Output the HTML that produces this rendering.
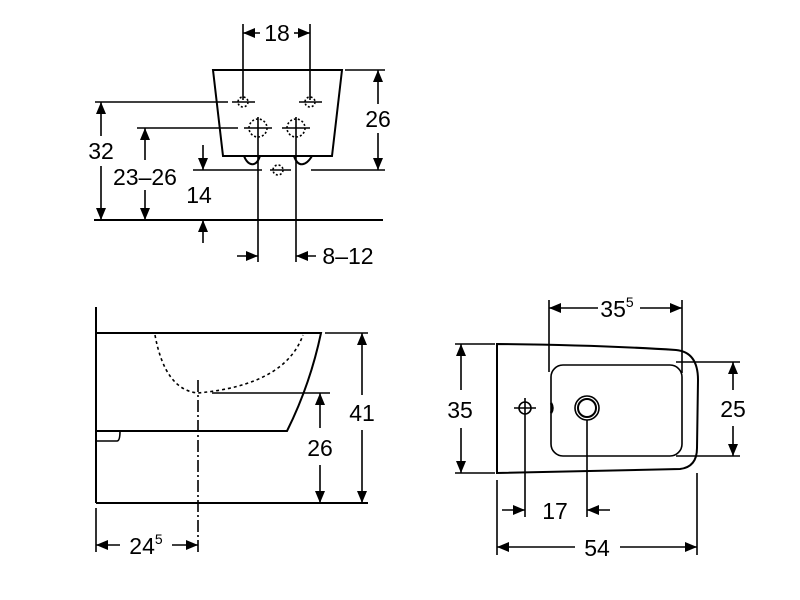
<!DOCTYPE html>
<html><head><meta charset="utf-8"><style>html,body{margin:0;padding:0;background:#fff}svg{display:block}text{font-family:"Liberation Sans",Arial,sans-serif;font-size:23px;fill:#000}</style></head><body>
<svg width="800" height="600" viewBox="0 0 800 600" xmlns="http://www.w3.org/2000/svg">
<defs>
<marker id="a" viewBox="0 0 12 10" refX="12" refY="5" markerWidth="12" markerHeight="10" markerUnits="userSpaceOnUse" orient="auto-start-reverse"><path d="M0,0L12,5L0,10Z" fill="#000"/></marker>
</defs>
<g stroke="#000" stroke-width="1.6" fill="none">
<!-- TOP VIEW -->
<path d="M213,70 L342,70 L332,156 L223,156 Z" stroke-width="2"/>
<path d="M244,156 C248,166 256,168 260,156 M294,156 C298,168 306,166 312,156" stroke-width="2"/>
<line x1="243" y1="24" x2="243" y2="100"/><line x1="310" y1="24" x2="310" y2="100"/>
<line x1="243" y1="33" x2="260" y2="33" marker-start="url(#a)"/><line x1="294" y1="33" x2="310" y2="33" marker-end="url(#a)"/>
<line x1="95" y1="102" x2="228" y2="102"/>
<line x1="232" y1="102" x2="255" y2="102"/><line x1="299" y1="102" x2="322" y2="102"/>
<circle cx="243" cy="102" r="5" stroke-dasharray="2,2"/><circle cx="310" cy="102" r="5" stroke-dasharray="2,2"/>
<line x1="137" y1="128" x2="238" y2="128"/>
<line x1="244" y1="128" x2="272" y2="128"/><line x1="282" y1="128" x2="310" y2="128"/>
<circle cx="258" cy="128" r="9" stroke-dasharray="2,2"/><circle cx="296" cy="128" r="9" stroke-dasharray="2,2"/>
<line x1="258" y1="117" x2="258" y2="262"/><line x1="296" y1="117" x2="296" y2="262"/>
<line x1="193" y1="170" x2="262" y2="170"/><line x1="270" y1="170" x2="291" y2="170"/>
<circle cx="278" cy="170" r="5" stroke-dasharray="2,2"/>
<line x1="311" y1="170" x2="385" y2="170"/><line x1="345" y1="70" x2="385" y2="70"/>
<line x1="378" y1="104" x2="378" y2="70" marker-end="url(#a)"/><line x1="378" y1="133" x2="378" y2="170" marker-end="url(#a)"/>
<line x1="94" y1="220" x2="383" y2="220" stroke-width="2"/>
<line x1="101" y1="136" x2="101" y2="102" marker-end="url(#a)"/><line x1="101" y1="166" x2="101" y2="220" marker-end="url(#a)"/>
<line x1="145" y1="160" x2="145" y2="128" marker-end="url(#a)"/><line x1="145" y1="190" x2="145" y2="220" marker-end="url(#a)"/>
<line x1="203" y1="145" x2="203" y2="170" marker-end="url(#a)"/><line x1="203" y1="243" x2="203" y2="220" marker-end="url(#a)"/>
<line x1="237" y1="256" x2="258" y2="256" marker-end="url(#a)"/><line x1="316" y1="256" x2="296" y2="256" marker-end="url(#a)"/>
<!-- SIDE VIEW -->
<line x1="96" y1="307" x2="96" y2="503" stroke-width="2"/>
<line x1="96" y1="503" x2="368" y2="503" stroke-width="2"/>
<path d="M96,333 L321,333 Q310,385 287,431 L96,431" stroke-width="2"/>
<path d="M96,441 L117,441 Q120,441 120,431"/>
<path d="M155,335 Q165,390 198,393 Q285,385 303,335" stroke-dasharray="3,3"/>
<line x1="198" y1="380" x2="198" y2="552" stroke-dasharray="12,3,2,3"/>
<line x1="212" y1="393" x2="330" y2="393"/>
<line x1="325" y1="333" x2="368" y2="333"/>
<line x1="362" y1="395" x2="362" y2="333" marker-end="url(#a)"/><line x1="362" y1="430" x2="362" y2="503" marker-end="url(#a)"/>
<line x1="320" y1="428" x2="320" y2="393" marker-end="url(#a)"/><line x1="320" y1="465" x2="320" y2="503" marker-end="url(#a)"/>
<line x1="96" y1="508" x2="96" y2="552"/>
<line x1="120" y1="545" x2="96" y2="545" marker-end="url(#a)"/><line x1="172" y1="545" x2="198" y2="545" marker-end="url(#a)"/>
<!-- PLAN VIEW -->
<path d="M497,344 L497,473 L680,469 Q697,467 697,448 L698,380 Q698,352 676,350 Q600,345 497,344 Z" stroke-width="2"/>
<rect x="551" y="365" width="131" height="91" rx="12"/>
<line x1="549" y1="300" x2="549" y2="372"/><line x1="682" y1="300" x2="682" y2="373"/>
<line x1="598" y1="308" x2="549" y2="308" marker-end="url(#a)"/><line x1="640" y1="308" x2="682" y2="308" marker-end="url(#a)"/>
<line x1="455" y1="344" x2="495" y2="344"/><line x1="455" y1="473" x2="495" y2="473"/>
<line x1="461" y1="390" x2="461" y2="344" marker-end="url(#a)"/><line x1="461" y1="428" x2="461" y2="473" marker-end="url(#a)"/>
<line x1="676" y1="362" x2="740" y2="362"/><line x1="676" y1="456" x2="740" y2="456"/>
<line x1="733" y1="390" x2="733" y2="362" marker-end="url(#a)"/><line x1="733" y1="426" x2="733" y2="456" marker-end="url(#a)"/>
<circle cx="525" cy="408" r="6"/><line x1="514" y1="408" x2="536" y2="408"/><line x1="525" y1="398" x2="525" y2="517"/>
<circle cx="587" cy="408" r="12"/><circle cx="587" cy="408" r="9" stroke-width="2"/><line x1="587" y1="420" x2="587" y2="517"/>
<path d="M551,403 Q554,408 551,413" stroke-width="2.5"/>
<line x1="502" y1="510" x2="525" y2="510" marker-end="url(#a)"/><line x1="610" y1="510" x2="587" y2="510" marker-end="url(#a)"/>
<line x1="497" y1="480" x2="497" y2="555"/><line x1="697" y1="473" x2="697" y2="555"/>
<line x1="575" y1="547" x2="497" y2="547" marker-end="url(#a)"/><line x1="620" y1="547" x2="697" y2="547" marker-end="url(#a)"/>
</g>
<g>
<text x="277" y="41" text-anchor="middle">18</text>
<text x="378" y="127" text-anchor="middle">26</text>
<text x="101" y="159" text-anchor="middle">32</text>
<text x="145" y="185" text-anchor="middle">23–26</text>
<text x="199" y="203" text-anchor="middle">14</text>
<text x="348" y="264" text-anchor="middle">8–12</text>
<text x="362" y="421" text-anchor="middle">41</text>
<text x="320" y="456" text-anchor="middle">26</text>
<text x="146" y="554" text-anchor="middle">24<tspan font-size="14" dy="-10">5</tspan></text>
<text x="617" y="317" text-anchor="middle">35<tspan font-size="14" dy="-10">5</tspan></text>
<text x="460" y="418" text-anchor="middle">35</text>
<text x="733" y="417" text-anchor="middle">25</text>
<text x="555" y="519" text-anchor="middle">17</text>
<text x="597" y="556" text-anchor="middle">54</text>
</g>
</svg>
</body></html>
